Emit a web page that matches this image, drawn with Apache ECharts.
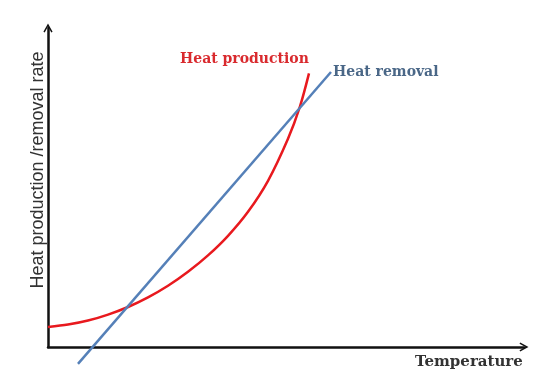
<!DOCTYPE html>
<html>
<head>
<meta charset="utf-8">
<script src="https://cdn.jsdelivr.net/npm/echarts@6/dist/echarts.min.js"></script>
<style>html,body{margin:0;padding:0;background:#fff}#c{width:554px;height:388px}</style>
</head>
<body>
<div id="c"></div>
<script>
// Data (arbitrary units, axes 0..100)
var heatProduction = [[0,6.27],[4.2,7.02],[8.4,8.28],[12.61,10.16],[16.81,12.54],[21.01,15.55],[25.21,19.19],[29.41,23.57],[33.61,28.71],[37.82,34.86],[42.02,42.38],[46.22,52.10],[50.42,65.27],[52.94,75.42],[54.83,85.77]];
var heatRemoval = [[6.3,-5.3],[59.45,86.2]];
var xName = 'Temperature';
var yName = 'Heat production /removal rate';
var prodLabel = 'Heat production';
var remLabel = 'Heat removal';

var chart = echarts.init(document.getElementById('c'), null, {renderer:'canvas'});
var arrow = 'path://M0,9 L5,0 L10,9 L8.6,9.8 L5,3.4 L1.4,9.8 Z';
chart.setOption({
  animation:false,
  grid:{left:48, right:30, top:28, bottom:41},
  xAxis:{type:'value', min:0, max:100,
    axisLine:{show:true, onZero:false, symbol:['none',arrow], symbolSize:[12,9], lineStyle:{color:'#111', width:2.5}},
    axisTick:{show:false}, axisLabel:{show:false}, splitLine:{show:false}},
  yAxis:{type:'value', min:0, max:100,
    axisLine:{show:true, onZero:false, symbol:['none',arrow], symbolSize:[12,9], lineStyle:{color:'#111', width:2.5}},
    axisTick:{show:false}, axisLabel:{show:false}, splitLine:{show:false}},
  series:[
    {type:'line', data:heatProduction, smooth:0.3, showSymbol:false, clip:false,
     lineStyle:{color:'#e8191e', width:2.5}},
    {type:'line', data:heatRemoval, showSymbol:false, clip:false,
     lineStyle:{color:'#5580b8', width:2.5}}
  ],
  graphic:[
    {type:'text', left:180, top:52, style:{text:prodLabel, fill:'#d92a2e', font:'bold 14px "DejaVu Serif"'}},
    {type:'text', left:333, top:65, style:{text:remLabel, fill:'#4a6787', font:'bold 14px "DejaVu Serif"'}},
    {type:'text', left:415, top:355, style:{text:xName, fill:'#333', font:'bold 15px "DejaVu Serif"'}},
    {type:'text', x:38, y:170, rotation:Math.PI/2,
     style:{text:yName, fill:'#333', font:'18px "Liberation Sans"', textAlign:'center', textVerticalAlign:'middle'}}
  ]
});
</script>
</body>
</html>
